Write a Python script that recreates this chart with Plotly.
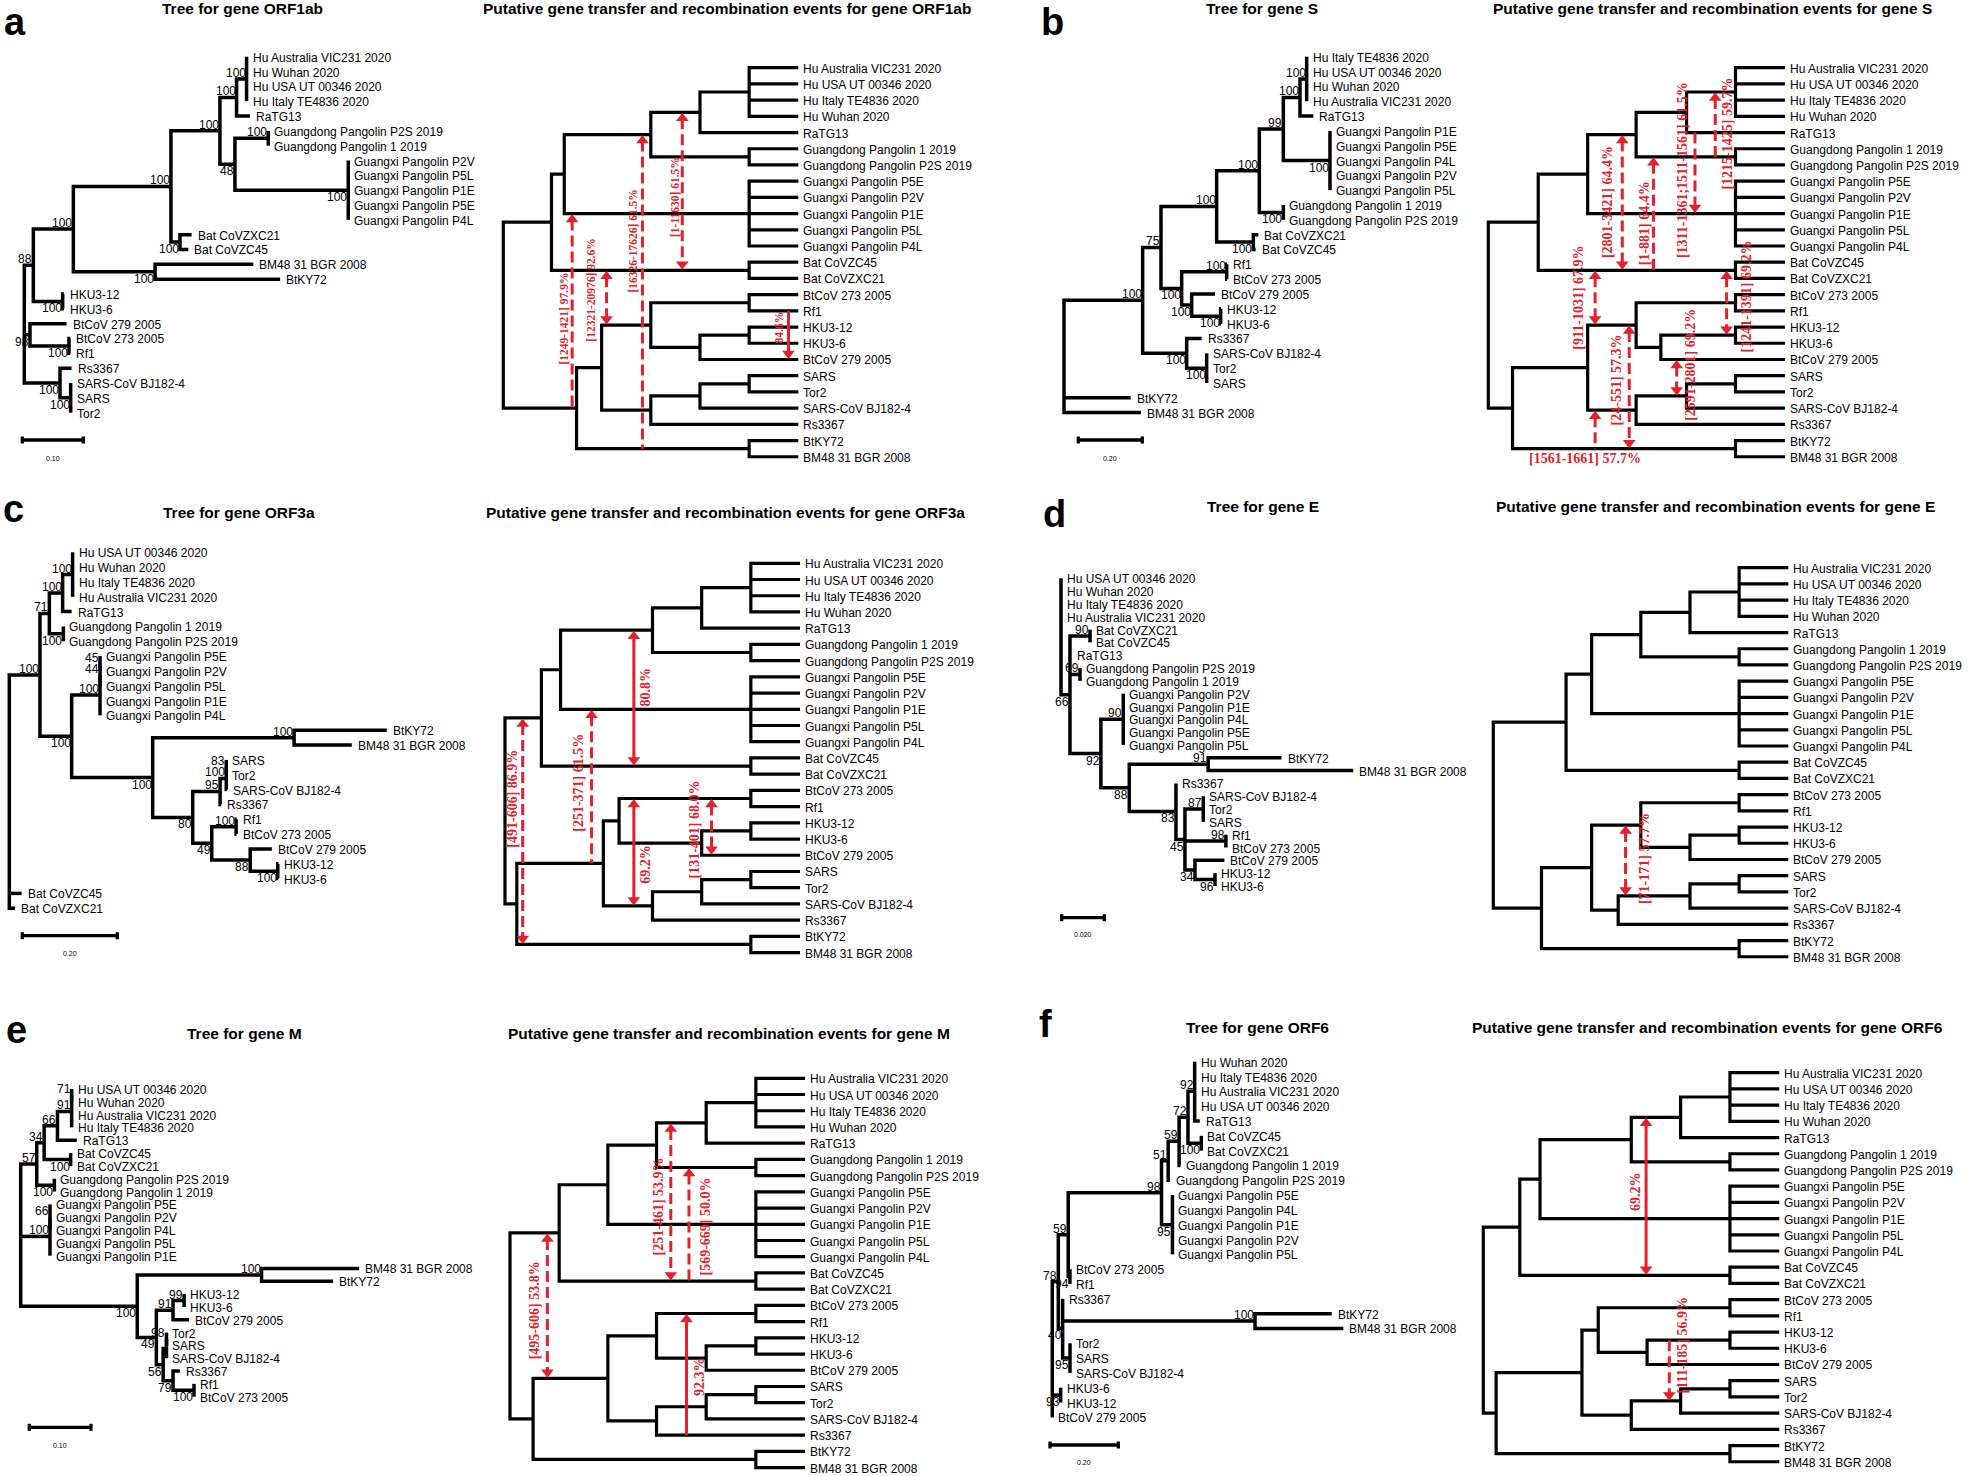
import re
import plotly.graph_objects as go

W, H = 1968, 1476
SANS = "Liberation Sans, Arial, Helvetica, sans-serif"
SERIF = "Liberation Serif, Times New Roman, serif"
RED = "#e4202a"

# ======================= DATA =======================
PANEL_LETTERS = ["a", "b", "c", "d", "e", "f"]
GENES = ["ORF1ab", "S", "ORF3a", "E", "M", "ORF6"]
LEFT_TITLES = ["Tree for gene " + g for g in GENES]
RIGHT_TITLES = ["Putative gene transfer and recombination events for gene " + g for g in GENES]
SCALE_VALUES = [0.10, 0.20, 0.20, 0.020, 0.10, 0.20]
SCALE_LABELS = ["0.10", "0.20", "0.20", "0.020", "0.10", "0.20"]

# Phylograms (Newick, branch lengths in substitutions/site, bootstrap as node labels)
TREE_ORF1AB = (
    "(((((((Hu Australia VIC231 2020:0,Hu Wuhan 2020:0,Hu USA UT 00346 2020:0,Hu Italy TE4836 2020:0)100:0.0164,"
    "RaTG13:0.0219)100:0.0273,"
    "((Guangdong Pangolin P2S 2019:0,Guangdong Pangolin 1 2019:0)100:0.0546,"
    "(Guangxi Pangolin P2V:0,Guangxi Pangolin P5L:0,Guangxi Pangolin P1E:0,Guangxi Pangolin P5E:0,Guangxi Pangolin P4L:0)100:0.1858)48:0.0246"
    ")100:0.0803,"
    "(Bat CoVZXC21:0.0191,Bat CoVZC45:0.0137)100:0.0148)100:0.160,"
    "(BM48 31 BGR 2008:0.161,BtKY72:0.205)100:0.134)100:0.0656,"
    "(HKU3-12:0.002,HKU3-6:0.002)100:0.0481)88:0.0148,"
    "(BtCoV 279 2005:0.060,(BtCoV 273 2005:0.002,Rf1:0.002)100:0.064)98:0.0093,"
    "(Rs3367:0.019,(SARS-CoV BJ182-4:0,SARS:0,Tor2:0)100:0.0175)100:0.0585);"
)
TREE_S = (
    "((((((((Hu Italy TE4836 2020:0,Hu USA UT 00346 2020:0,Hu Wuhan 2020:0,Hu Australia VIC231 2020:0)100:0.0208,"
    "RaTG13:0.0417)100:0.0521,"
    "(Guangxi Pangolin P1E:0,Guangxi Pangolin P5E:0,Guangxi Pangolin P4L:0,Guangxi Pangolin P2V:0,Guangxi Pangolin P5L:0)100:0.1458)99:0.075,"
    "(Guangdong Pangolin 1 2019:0,Guangdong Pangolin P2S 2019:0)100:0.075)100:0.1333,"
    "(Bat CoVZXC21:0.0156,Bat CoVZC45:0.0073)100:0.1146)100:0.174,"
    "((Rf1:0.001,BtCoV 273 2005:0.001)100:0.1406,(BtCoV 279 2005:0.0729,(HKU3-12:0.001,HKU3-6:0.001)100:0.0906)100:0.0313)100:0.0646)75:0.0573,"
    "(Rs3367:0.0469,(SARS-CoV BJ182-4:0,Tor2:0,SARS:0)100:0.0625)100:0.1375)100:0.2458,"
    "BtKY72:0.2083,BM48 31 BGR 2008:0.2406);"
)
TREE_ORF3A = (
    "(((((Hu USA UT 00346 2020:0,Hu Wuhan 2020:0,Hu Italy TE4836 2020:0,Hu Australia VIC231 2020:0)100:0.021,RaTG13:0.019)100:0.028,"
    "(Guangdong Pangolin 1 2019:0,Guangdong Pangolin P2S 2019:0)100:0.0295)71:0.0197,"
    "((((Guangxi Pangolin P5E:0,Guangxi Pangolin P2V:0)45:0,Guangxi Pangolin P5L:0)44:0,Guangxi Pangolin P1E:0,Guangxi Pangolin P4L:0)100:0.0597,"
    "((BtKY72:0.195,BM48 31 BGR 2008:0.1215)100:0.2977,"
    "((((SARS:0,Tor2:0)83:0,SARS-CoV BJ182-4:0.001)100:0.013,Rs3367:0.002)95:0.0576,"
    "((Rf1:0.001,BtCoV 273 2005:0.001)100:0.0513,(BtCoV 279 2005:0.0456,(HKU3-12:0.001,HKU3-6:0.001)100:0.058)88:0.081)49:0.040"
    ")80:0.0843)100:0.1706)100:0.0667)100:0.0646,"
    "Bat CoVZC45:0.026,Bat CoVZXC21:0.012);"
)
TREE_E = (
    "(Hu USA UT 00346 2020:0,Hu Wuhan 2020:0,Hu Italy TE4836 2020:0,Hu Australia VIC231 2020:0,"
    "((Bat CoVZXC21:0,Bat CoVZC45:0)90:0.0094,RaTG13:0.0005,"
    "(Guangdong Pangolin P2S 2019:0,Guangdong Pangolin 1 2019:0)69:0.0047,"
    "((Guangxi Pangolin P2V:0,Guangxi Pangolin P1E:0,Guangxi Pangolin P4L:0,Guangxi Pangolin P5E:0,Guangxi Pangolin P5L:0)90:0.0105,"
    "((BtKY72:0.0344,BM48 31 BGR 2008:0.068)91:0.037,"
    "(Rs3367:0,((SARS-CoV BJ182-4:0,Tor2:0,SARS:0)87:0.0086,(Rf1:0,BtCoV 273 2005:0)98:0.0192,"
    "(BtCoV 279 2005:0.0138,(HKU3-12:0,HKU3-6:0)96:0.0094)34:0.0047)45:0.0042)83:0.0219)88:0.0133)92:0.0145)66:0.0042);"
)
TREE_M = (
    "((((((Hu USA UT 00346 2020:0,Hu Wuhan 2020:0)71:0,Hu Australia VIC231 2020:0,Hu Italy TE4836 2020:0)91:0.023,RaTG13:0.0313)66:0.0216,"
    "(Bat CoVZC45:0,Bat CoVZXC21:0)100:0.043)34:0.012,"
    "(Guangdong Pangolin P2S 2019:0,Guangdong Pangolin 1 2019:0)100:0.0286)57:0.026,"
    "((Guangxi Pangolin P5E:0,Guangxi Pangolin P2V:0,Guangxi Pangolin P4L:0)66:0,Guangxi Pangolin P5L:0,Guangxi Pangolin P1E:0)100:0.0475,"
    "((BM48 31 BGR 2008:0.158,BtKY72:0.116)100:0.2016,"
    "(((HKU3-12:0,HKU3-6:0)99:0.018,BtCoV 279 2005:0.026)91:0.027,"
    "(((Tor2:0,SARS:0)98:0,SARS-CoV BJ182-4:0):0.0054,(Rs3367:0.011,(Rf1:0,BtCoV 273 2005:0)100:0.034)79:0.016)56:0.011)49:0.031)100:0.189);"
)
TREE_ORF6 = (
    "((((((((Hu Wuhan 2020:0,Hu Italy TE4836 2020:0,Hu Australia VIC231 2020:0,Hu USA UT 00346 2020:0,RaTG13:0.015)92:0.0195,"
    "(Bat CoVZC45:0,Bat CoVZXC21:0)100:0.039)72:0.026,Guangdong Pangolin 1 2019:0.004)59:0.032,"
    "Guangdong Pangolin P2S 2019:0.005)51:0.0195,"
    "(Guangxi Pangolin P5E:0,Guangxi Pangolin P4L:0,Guangxi Pangolin P1E:0,Guangxi Pangolin P2V:0,Guangxi Pangolin P5L:0)95:0.032)98:0.273,"
    "(BtCoV 273 2005:0,Rf1:0)94:0.005)59:0.029,"
    "(Rs3367:0,(BtKY72:0.2245,BM48 31 BGR 2008:0.2587)100:0.563,(Tor2:0,SARS:0,SARS-CoV BJ182-4:0)95:0.0215)40:0.0127)78:0.0176,"
    "(HKU3-6:0,HKU3-12:0)93:0.0244,BtCoV 279 2005:0);"
)
LEFT_TREES = [TREE_ORF1AB, TREE_S, TREE_ORF3A, TREE_E, TREE_M, TREE_ORF6]

# Cladograms used for the transfer events (shared topology, node levels per gene)
RIGHT_TOPOLOGY = (
    "((((((Hu Australia VIC231 2020,Hu USA UT 00346 2020,Hu Italy TE4836 2020,Hu Wuhan 2020)H,RaTG13)HR,"
    "(Guangdong Pangolin 1 2019,Guangdong Pangolin P2S 2019)G)HRG,"
    "(Guangxi Pangolin P5E,Guangxi Pangolin P2V,Guangxi Pangolin P1E,Guangxi Pangolin P5L,Guangxi Pangolin P4L)X)HRGX,"
    "(Bat CoVZC45,Bat CoVZXC21)B)TOP,"
    "((((BtCoV 273 2005,Rf1)R,((HKU3-12,HKU3-6)K,BtCoV 279 2005)K9)RK,"
    "(((SARS,Tor2)S,SARS-CoV BJ182-4)SB,Rs3367)SBR)LOW,"
    "(BtKY72,BM48 31 BGR 2008)Y)LOWY)ROOT;"
)
TIP_LEVEL = 6.0
RIGHT_LEVELS = {
    "a": {"ROOT": 0, "TOP": 0.98, "HRGX": 1.24, "HRG": 3.0, "HR": 4.0, "H": 5.0, "G": 5.0, "X": 5.0, "B": 5.0,
          "LOWY": 1.49, "LOW": 2.0, "RK": 3.0, "R": 5.0, "K9": 4.0, "K": 5.0, "SBR": 3.0, "SB": 4.0, "S": 5.0, "Y": 5.0},
    "b": {"ROOT": 0, "TOP": 1.01, "HRGX": 2.01, "HRG": 2.99, "HR": 4.01, "H": 5.0, "G": 5.0, "X": 5.0, "B": 5.0,
          "LOWY": 0.49, "LOW": 2.01, "RK": 2.99, "R": 5.0, "K9": 3.49, "K": 5.0, "SBR": 2.99, "SB": 4.01, "S": 5.0, "Y": 5.0},
    "c": {"ROOT": 0, "TOP": 0.74, "HRGX": 1.13, "HRG": 3.0, "HR": 4.0, "H": 5.0, "G": 5.0, "X": 5.0, "B": 5.0,
          "LOWY": 0.24, "LOW": 2.0, "RK": 2.32, "R": 5.0, "K9": 4.0, "K": 5.0, "SBR": 3.0, "SB": 4.0, "S": 5.0, "Y": 5.0},
    "d": {"ROOT": 0, "TOP": 1.48, "HRGX": 2.0, "HRG": 3.0, "HR": 4.0, "H": 5.0, "G": 5.0, "X": 5.0, "B": 5.0,
          "LOWY": 0.98, "LOW": 2.0, "RK": 3.0, "R": 5.0, "K9": 4.0, "K": 5.0, "SBR": 2.54, "SB": 4.0, "S": 5.0, "Y": 5.0},
    "e": {"ROOT": 0, "TOP": 1.0, "HRGX": 1.99, "HRG": 2.98, "HR": 3.99, "H": 5.0, "G": 5.0, "X": 5.0, "B": 5.0,
          "LOWY": 0.47, "LOW": 1.99, "RK": 2.98, "R": 5.0, "K9": 3.99, "K": 5.0, "SBR": 2.98, "SB": 3.99, "S": 5.0, "Y": 5.0},
    "f": {"ROOT": 0, "TOP": 0.74, "HRGX": 1.15, "HRG": 3.0, "HR": 4.0, "H": 5.0, "G": 5.0, "X": 5.0, "B": 5.0,
          "LOWY": 0.26, "LOW": 2.0, "RK": 2.33, "R": 5.0, "K9": 3.32, "K": 5.0, "SBR": 3.0, "SB": 4.0, "S": 5.0, "Y": 5.0},
}

# Transfer / recombination events: level on tree, donor/recipient branches, label
EVENTS = {
    "a": [
        dict(x=3.64, top="HR", bottom="B", heads="both", line="dash", label="[1-11630] 61.5%"),
        dict(x=2.83, top="HRG", bottom="Y", heads="up", line="dash", label="[16326-17626] 61.5%"),
        dict(x=1.40, top="X", bottom="LOWY", heads="up", line="dash", label="[1249-1421] 97.9%"),
        dict(x=2.10, top="B", bottom="RK", heads="both", line="dash", label="[12321-20976] 92.6%"),
        dict(x=5.80, top="Rf1", bottom="BtCoV 279 2005", heads="down", line="solid", label="84.6%"),
    ],
    "b": [
        dict(x=4.59, top="H", bottom="G", heads="up", line="dash", label="[1215-1425] 59.7%"),
        dict(x=4.18, top="RaTG13", bottom="X", heads="down", line="dash", label="[1311-1361;1511-1561] 61.5%"),
        dict(x=3.34, top="G", bottom="B", heads="up", line="dash", label="[1-881] 64.4%"),
        dict(x=2.71, top="HRG", bottom="B", heads="both", line="dash", label="[2801-3421] 64.4%"),
        dict(x=2.16, top="B", bottom="RK", heads="both", line="dash", label="[911-1031] 67.9%"),
        dict(x=2.85, top="RK", bottom="Y", heads="both", line="dash", label="[24-551] 57.3%"),
        dict(x=2.16, top="SBR", bottom="Y", heads="up", line="dash", label="[1561-1661] 57.7%"),
        dict(x=4.82, top="B", bottom="K", heads="both", line="dash", label="[1241-1391] 69.2%"),
        dict(x=3.81, top="BtCoV 279 2005", bottom="SB", heads="both", line="dash", label="[2591-2801] 69.2%"),
    ],
    "c": [
        dict(x=2.62, top="HRG", bottom="B", heads="both", line="solid", label="80.8%"),
        dict(x=1.76, top="X", bottom="LOW", heads="up", line="dash", label="[251-371] 61.5%"),
        dict(x=0.36, top="TOP", bottom="Y", heads="both", line="dash", label="[491-606] 86.9%"),
        dict(x=2.62, top="R", bottom="SBR", heads="both", line="solid", label="69.2%"),
        dict(x=4.20, top="R", bottom="BtCoV 279 2005", heads="both", line="dash", label="[131-401] 68.0%"),
    ],
    "d": [
        dict(x=2.69, top="RK", bottom="SB", heads="both", line="dash", label="[71-171] 57.7%"),
    ],
    "e": [
        dict(x=3.27, top="HR", bottom="B", heads="both", line="dash", label="[251-461] 53.9%"),
        dict(x=3.64, top="G", bottom="B", heads="up", line="dash", label="[569-669] 50.0%"),
        dict(x=0.76, top="TOP", bottom="LOW", heads="both", line="dash", label="[495-606] 53.8%"),
        dict(x=3.59, top="R", bottom="Rs3367", heads="up", line="solid", label="92.3%"),
    ],
    "f": [
        dict(x=3.30, top="HR", bottom="B", heads="both", line="solid", label="69.2%"),
        dict(x=3.77, top="K", bottom="SB", heads="down", line="dash", label="[111-185] 56.9%"),
    ],
}

# ======================= LAYOUT PARAMETERS (pixels) =======================
LEFT_PLACE = [
    dict(root_x=24.3, ppu=610.0, y0=56.7, sp=14.83, bar_x=22.3, bar_y=440.0, bar_ly=458.0),
    dict(root_x=1064.0, ppu=320.0, y0=56.7, sp=14.83, bar_x=1078.3, bar_y=440.0, bar_ly=458.0),
    dict(root_x=9.3, ppu=475.0, y0=552.3, sp=14.83, bar_x=22.3, bar_y=935.7, bar_ly=953.0),
    dict(root_x=1061.0, ppu=2133.0, y0=578.3, sp=12.82, bar_x=1061.7, bar_y=917.7, bar_ly=934.3),
    dict(root_x=20.7, ppu=616.7, y0=1089.0, sp=12.82, bar_x=29.3, bar_y=1427.3, bar_ly=1445.0),
    dict(root_x=1052.3, ppu=341.7, y0=1061.7, sp=14.82, bar_x=1050.0, bar_y=1445.0, bar_ly=1462.0),
]
# support values drawn under their branch although not the last child
SUPPORT_BELOW = [{"98"}, set(), set(), set(), set(), {"93"}]
RIGHT_PLACE = [
    dict(root_x=503.3, step=49.17, y0=67.7, sp=16.21, fs=11.5),
    dict(root_x=1488.3, step=49.44, y0=67.7, sp=16.21, fs=14),
    dict(root_x=505.0, step=49.17, y0=563.3, sp=16.22, fs=14),
    dict(root_x=1493.3, step=49.17, y0=567.7, sp=16.21, fs=14),
    dict(root_x=510.0, step=49.17, y0=1078.3, sp=16.22, fs=14),
    dict(root_x=1483.3, step=49.33, y0=1072.7, sp=16.21, fs=14),
]
# event label placement: (centre in leaf units, horizontal offset px, angle)
EVENT_LABEL_POS = {
    "a": [(7.96, -8, -90), (10.64, -9, -90), (15.47, -8, -90), (13.72, -15, -90), (15.99, -10, -90)],
    "b": [(4.05, 12, -90), (6.32, -13, -90), (9.57, -9, -90), (8.27, -15, -90), (14.18, -17, -90),
          (19.28, -13, -90), (24.1, -10, 0), (14.14, 20, -90), (18.35, 13, -90)],
    "c": [(7.6, 12, -90), (13.56, -13, -90), (14.53, -10, -90), (18.53, 12, -90), (16.44, -17, -90)],
    "d": [(17.94, 19, -90)],
    "e": [(7.91, -12, -90), (9.14, 17, -90), (14.28, -12, -90), (18.39, 13, -90)],
    "f": [(7.35, -10, -90), (16.81, 13, -90)],
}
LEFT_TITLE_POS = [(242, 8), (1262, 8), (239, 512), (1263, 506), (244, 1033), (1257, 1027)]
RIGHT_TITLE_POS = [(727, 8), (1712, 8), (725, 512), (1715, 506), (729, 1033), (1707, 1027)]
LETTER_POS = [(2, 22), (1039, 22), (1, 509), (1041, 514), (4, 1030), (1037, 1024)]
LETTER_SIZE = 38


# ======================= HELPERS =======================
def parse_newick(text):
    s = re.sub(r"\s*([(),:;])\s*", r"\1", text.strip())
    pos = 0

    def node():
        nonlocal pos
        n = {"children": [], "name": "", "length": 0.0}
        if s[pos] == "(":
            pos += 1
            while True:
                n["children"].append(node())
                ch = s[pos]
                pos += 1
                if ch == ")":
                    break
        start = pos
        while pos < len(s) and s[pos] not in ":,();":
            pos += 1
        n["name"] = s[start:pos].strip()
        if pos < len(s) and s[pos] == ":":
            pos += 1
            start = pos
            while pos < len(s) and s[pos] not in ",();":
                pos += 1
            n["length"] = float(s[start:pos])
        return n

    return node()


def layout_tree(root, levels=None, tip_level=None):
    leaves, internals = [], []

    def walk(n, px, parent):
        n["parent"] = parent
        if levels is None:
            n["x"] = px + (n["length"] if parent is not None else 0.0)
        else:
            n["x"] = levels[n["name"]] if n["children"] else tip_level
        for c in n["children"]:
            walk(c, n["x"], n)
        if n["children"]:
            n["y"] = (n["children"][0]["y"] + n["children"][-1]["y"]) / 2.0
            internals.append(n)
        else:
            n["y"] = float(len(leaves))
            leaves.append(n)

    walk(root, 0.0, None)
    return leaves, internals


def tree_segments(internals):
    xs, ys = [], []
    for n in internals:
        cs = n["children"]
        f, l = cs[0], cs[-1]
        xs += [f["x"], n["x"], n["x"], l["x"], None]
        ys += [f["y"], f["y"], l["y"], l["y"], None]
        for c in cs[1:-1]:
            xs += [n["x"], c["x"], None]
            ys += [c["y"], c["y"], None]
    return xs, ys


fig = go.Figure()
annotations = []
axes = {}
counter = [0]


def new_axes(xr, yr):
    counter[0] += 1
    k = counter[0]
    sfx = "" if k == 1 else str(k)
    axes["xaxis" + sfx] = dict(domain=[0, 1], range=xr, visible=False, fixedrange=True, anchor="y" + sfx)
    axes["yaxis" + sfx] = dict(domain=[0, 1], range=yr, visible=False, fixedrange=True, anchor="x" + sfx)
    return "x" + sfx, "y" + sfx


def label_font(size=12, color="black", family=SANS):
    return dict(family=family, size=size, color=color)


# ======================= LEFT: phylograms =======================
for i, newick in enumerate(LEFT_TREES):
    P = LEFT_PLACE[i]
    root = parse_newick(newick)
    leaves, internals = layout_tree(root)
    xr = [-P["root_x"] / P["ppu"], (W - P["root_x"]) / P["ppu"]]
    yr = [(H - P["y0"]) / P["sp"], -P["y0"] / P["sp"]]
    xa, ya = new_axes(xr, yr)
    xs, ys = tree_segments(internals)
    fig.add_trace(go.Scatter(x=xs, y=ys, mode="lines", xaxis=xa, yaxis=ya,
                             line=dict(color="black", width=3.5), hoverinfo="skip", showlegend=False))
    for lf in leaves:
        annotations.append(dict(x=lf["x"], y=lf["y"], xref=xa, yref=ya, text=lf["name"], showarrow=False,
                                xanchor="left", yanchor="middle", xshift=4, yshift=-1, font=label_font()))
    for n in internals:
        par = n["parent"]
        if par is None or not n["name"]:
            continue
        below = (par["children"][-1] is n) or (n["name"] in SUPPORT_BELOW[i])
        annotations.append(dict(x=n["x"], y=n["y"], xref=xa, yref=ya, text=n["name"], showarrow=False,
                                xanchor="right", yanchor="middle", xshift=1, yshift=(-7 if below else 6),
                                font=label_font()))
    # scale bar
    bx0 = (P["bar_x"] - P["root_x"]) / P["ppu"]
    bx1 = bx0 + SCALE_VALUES[i]
    by = (P["bar_y"] - P["y0"]) / P["sp"]
    tk = 3.5 / P["sp"]
    fig.add_trace(go.Scatter(x=[bx0, bx1, None, bx0, bx0, None, bx1, bx1],
                             y=[by, by, None, by - tk, by + tk, None, by - tk, by + tk],
                             mode="lines", xaxis=xa, yaxis=ya, line=dict(color="black", width=3.3),
                             hoverinfo="skip", showlegend=False))
    annotations.append(dict(x=(bx0 + bx1) / 2, y=(P["bar_ly"] - P["y0"]) / P["sp"], xref=xa, yref=ya,
                            text=SCALE_LABELS[i], showarrow=False, xanchor="center", yanchor="middle",
                            font=label_font(7)))

# ======================= RIGHT: event cladograms =======================
HEAD = 10
for i, letter in enumerate(PANEL_LETTERS):
    P = RIGHT_PLACE[i]
    root = parse_newick(RIGHT_TOPOLOGY)
    leaves, internals = layout_tree(root, RIGHT_LEVELS[letter], TIP_LEVEL)
    xr = [-P["root_x"] / P["step"], (W - P["root_x"]) / P["step"]]
    yr = [(H - P["y0"]) / P["sp"], -P["y0"] / P["sp"]]
    xa, ya = new_axes(xr, yr)
    xs, ys = tree_segments(internals)
    fig.add_trace(go.Scatter(x=xs, y=ys, mode="lines", xaxis=xa, yaxis=ya,
                             line=dict(color="black", width=3.2), hoverinfo="skip", showlegend=False))
    for lf in leaves:
        annotations.append(dict(x=lf["x"], y=lf["y"], xref=xa, yref=ya, text=lf["name"], showarrow=False,
                                xanchor="left", yanchor="middle", xshift=3, yshift=-1, font=label_font()))
    byname = {n["name"]: n for n in leaves + internals}
    off = (HEAD / 2 + 1.0) / P["sp"]
    for ev, (ly, dx, ang) in zip(EVENTS[letter], EVENT_LABEL_POS[letter]):
        yt = byname[ev["top"]]["y"]
        yb = byname[ev["bottom"]]["y"]
        head_up = ev["heads"] in ("up", "both")
        head_dn = ev["heads"] in ("down", "both")
        y_a = yt + off if head_up else yt
        y_b = yb - off if head_dn else yb
        fig.add_trace(go.Scatter(x=[ev["x"], ev["x"]], y=[y_a, y_b], mode="lines", xaxis=xa, yaxis=ya,
                                 line=dict(color=RED, width=3, dash=("11px,5px" if ev["line"] == "dash" else "solid")),
                                 hoverinfo="skip", showlegend=False))
        mx, my, ms = [], [], []
        if head_up:
            mx.append(ev["x"]); my.append(yt + off); ms.append("triangle-up")
        if head_dn:
            mx.append(ev["x"]); my.append(yb - off); ms.append("triangle-down")
        fig.add_trace(go.Scatter(x=mx, y=my, mode="markers", xaxis=xa, yaxis=ya,
                                 marker=dict(symbol=ms, size=HEAD + 1, color=RED, line=dict(width=0)),
                                 hoverinfo="skip", showlegend=False))
        annotations.append(dict(x=ev["x"], y=ly, xref=xa, yref=ya, text="<b>" + ev["label"] + "</b>",
                                showarrow=False, textangle=ang, xanchor="center", yanchor="middle", xshift=dx,
                                font=label_font(P["fs"], RED, SERIF)))

# ======================= titles & panel letters =======================
for i in range(6):
    for (tx, ty), txt in ((LEFT_TITLE_POS[i], LEFT_TITLES[i]), (RIGHT_TITLE_POS[i], RIGHT_TITLES[i])):
        annotations.append(dict(x=tx / W, y=1 - ty / H, xref="paper", yref="paper", text="<b>" + txt + "</b>",
                                showarrow=False, xanchor="center", yanchor="middle", font=label_font(15.5)))
    lx, lyy = LETTER_POS[i]
    annotations.append(dict(x=lx / W, y=1 - lyy / H, xref="paper", yref="paper",
                            text="<b>" + PANEL_LETTERS[i] + "</b>", showarrow=False,
                            xanchor="left", yanchor="middle", font=label_font(LETTER_SIZE)))

fig.update_layout(width=W, height=H, margin=dict(l=0, r=0, t=0, b=0, pad=0),
                  paper_bgcolor="white", plot_bgcolor="rgba(0,0,0,0)",
                  showlegend=False, hovermode=False, annotations=annotations, **axes)

# the page body has a default 8px margin; remove it so the figure sits at the window origin
fig.write_html("out.html", config={"displayModeBar": False, "staticPlot": True},
               post_script="document.body.style.margin='0';document.body.style.overflow='hidden';")
